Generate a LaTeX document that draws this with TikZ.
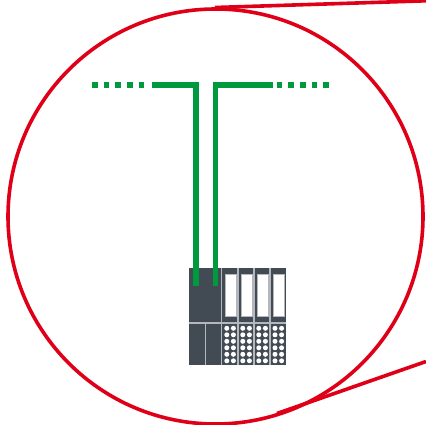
\documentclass[tikz,border=0pt]{standalone}
\definecolor{hired}{HTML}{DF0018}
\definecolor{hgreen}{HTML}{009A3E}
\definecolor{hdark}{HTML}{424A54}
\definecolor{hline}{HTML}{B4B8BC}
\tikzset{
  redline/.style={draw=hired,line width=3.6pt},
  greenline/.style={draw=hgreen,line width=5.8pt},
  greensq/.style={fill=hgreen,draw=none},
  divider/.style={draw=hline,line width=1.5pt},
  window/.style={fill=white,draw=hline,line width=1pt}
}
\begin{document}
\begin{tikzpicture}[x=1pt,y=-1pt]
\useasboundingbox (0,0) rectangle (426,425);
\begin{scope}
\clip (0,0) rectangle (426,425);
\draw[redline] (215.5,216.5) circle (207.5);
\draw[redline] (215,7.5) -- (426,0.8);
\draw[redline] (277,413.5) -- (426,361.5);
\end{scope}
% module body
\fill[hdark] (189,268) rectangle (286,365);
\foreach \x in {221.7,237.8,254,270}
  \draw[divider] (\x,268) -- (\x,365);
\draw[divider] (189,323) -- (286,323);
\draw[divider] (205.7,323) -- (205.7,365);
\foreach \x in {225,241,257,273.2}{
  \draw[window] (\x,274.5) rectangle ++(11,42);
  \foreach \k in {0,...,5}{
    \fill[white] (\x+1.8,328.3+6.5*\k) circle (2.5);
    \fill[white] (\x+8.4,328.3+6.5*\k) circle (2.5);
  }
}
% green lines
\draw[greenline] (151.7,84.7) -- (196.2,84.7) -- (196.2,286);
\draw[greenline] (273.3,84.7) -- (215.5,84.7) -- (215.5,286);
\foreach \x in {92,103.7,115.3,127,138.5,276.7,288.3,300,311.7,323.3}
  \fill[greensq] (\x,82) rectangle ++(5.6,5.6);
\end{tikzpicture}
\end{document}
